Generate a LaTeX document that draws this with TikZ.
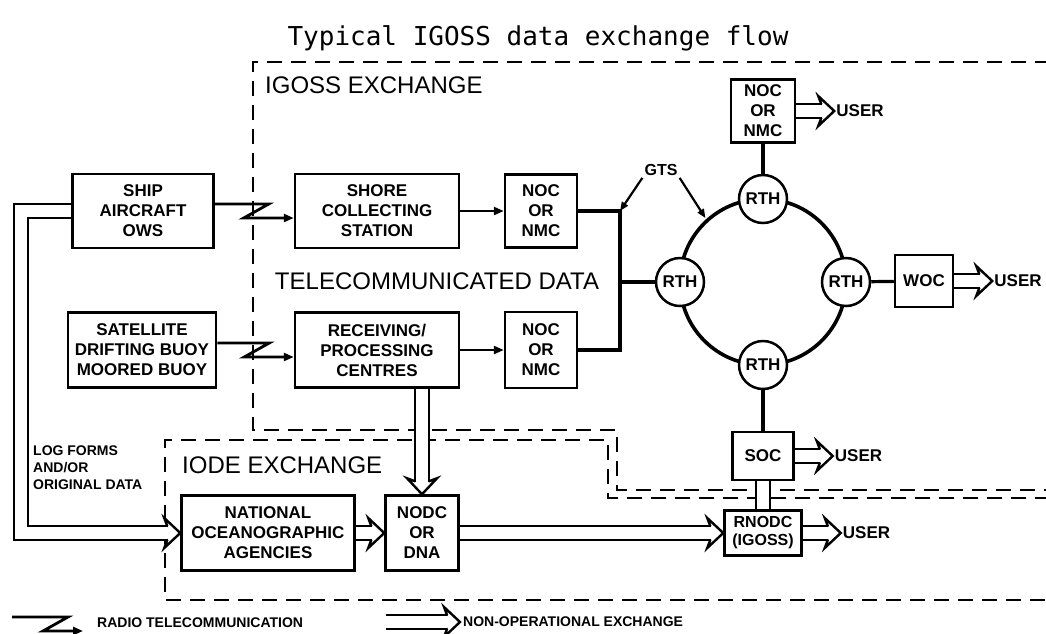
\documentclass[tikz,border=0pt]{standalone}
\usepackage{fontspec}
\setmainfont{Liberation Sans}
\newfontfamily\titlefont{DejaVu Sans Mono}
\usetikzlibrary{calc,positioning,arrows.meta,backgrounds}

\begin{document}
\begin{tikzpicture}[x=1pt,y=-1pt]
        \tikzstyle{box} = [draw, line width=2.5pt, align=center, inner sep=0pt, font=\fontsize{17}{20}\selectfont\bfseries]
        \tikzstyle{rth} = [circle, draw, line width=2.5pt, fill=white, minimum size=48pt, inner sep=0pt, font=\fontsize{17}{20}\selectfont\bfseries]
        \tikzstyle{user} = [inner sep=2pt, font=\fontsize{17}{20}\selectfont\bfseries]
        \tikzstyle{heading} = [inner sep=0pt, font=\fontsize{24}{28}\selectfont]
        \tikzstyle{small} = [inner sep=0pt, align=left, font=\fontsize{14}{17}\selectfont\bfseries]
        \tikzstyle{link} = [line width=3.2pt]
        \tikzstyle{radio} = [line width=2.8pt, -{Triangle[length=10pt,width=8pt]}]
        \tikzstyle{gtsarrow} = [line width=2.2pt, -{Triangle[length=9pt,width=7pt]}]
        \tikzstyle{hollow} = [line width=2.4pt, double=white, double distance=11.6pt]
        \tikzstyle{region} = [line width=2.2pt, dash pattern=on 15pt off 9pt]
        \tikzset{openhead/.pic={\draw[line width=2.4pt, fill=white, line cap=round] (-13,7) -- (-16,15) -- (0,0) -- (-16,-15) -- (-13,-7);}}

        \useasboundingbox (0,0) rectangle (1046,633);

        \node[font=\titlefont\fontsize{26}{30}\selectfont] (title) at (538,38) {Typical IGOSS data exchange flow};
        \node[heading, anchor=west] (igoss) at (265,85) {IGOSS EXCHANGE};
        \node[heading, anchor=west] (iode) at (182,465) {IODE EXCHANGE};
        \node[heading] (telecom) at (437,281) {TELECOMMUNICATED DATA};
        \node[small, anchor=north west] (logforms) at (33,446) {LOG FORMS\\AND/OR\\ORIGINAL DATA};

        \node[box, minimum width=141pt, minimum height=74pt] (ship) at (143,211) {SHIP\\AIRCRAFT\\OWS};
        \node[box, minimum width=148pt, minimum height=75pt] (sat) at (142,350) {SATELLITE\\DRIFTING BUOY\\MOORED BUOY};
        \node[box, minimum width=164pt, minimum height=74pt] (shore) at (377,211) {SHORE\\COLLECTING\\STATION};
        \node[box, minimum width=164pt, minimum height=75pt] (recv) at (377,350) {RECEIVING/\\PROCESSING\\CENTRES};
        \node[box, minimum width=72pt, minimum height=73pt] (noc1) at (541,211) {NOC\\OR\\NMC};
        \node[box, minimum width=72pt, minimum height=76pt] (noc2) at (541,350) {NOC\\OR\\NMC};
        \node[box, minimum width=64pt, minimum height=63pt] (noct) at (763,111) {NOC\\OR\\NMC};
        \node[box, minimum width=58pt, minimum height=52pt] (woc) at (924,281) {WOC};
        \node[box, minimum width=61pt, minimum height=48pt] (soc) at (763,456) {SOC};
        \node[box, minimum width=77pt, minimum height=45pt, font=\fontsize{16}{18}\selectfont\bfseries] (rnodc) at (763,533) {RNODC\\(IGOSS)};
        \node[box, minimum width=173pt, minimum height=75pt] (natl) at (268,533) {NATIONAL\\OCEANOGRAPHIC\\AGENCIES};
        \node[box, minimum width=73pt, minimum height=75pt] (nodc) at (422,533) {NODC\\OR\\DNA};

        \coordinate (ring) at (763,282);
        \coordinate (bus) at (620,282);
        \foreach \a/\n in {270/t,180/l,90/b,0/r}
        {
                \node[rth] (rth\n) at ($(ring)+(\a:83)$) {RTH};
        }
        \node[user, font=\fontsize{16}{18}\selectfont\bfseries] (gts) at (661,170) {GTS};

        \node[small, anchor=west] (radiotext) at (97,623) {RADIO TELECOMMUNICATION};
        \node[small, anchor=west, inner sep=3pt] (nonoptext) at (460,622) {NON-OPERATIONAL EXCHANGE};
        \coordinate (radio0) at (12,617);
        \coordinate (nonop0) at (386,622);

        \begin{scope}[on background layer]
                \draw[region] (1050,62) -- (253,62) -- (253,430) -- (617,430) -- (617,490) -- (1050,490);
                \draw[region] (1050,498) -- (608,498) -- (608,440) -- (165,440) -- (165,600) -- (1050,600);

                \draw[line width=3.6pt] (ring) circle (83);
                \draw[link] (noct) -- (rtht);
                \draw[link] (rthr) -- (woc);
                \draw[link] (rthb) -- (soc);
                \draw[link] (noc1) -| (bus) |- (noc2);
                \draw[link] (bus) -- (rthl);
                \draw[gtsarrow] (gts.south west) -- (noc1.east -| bus);
                \draw[gtsarrow] (gts.south east) -- ($(ring)+(228:86)$);

                \draw[radio] ($(ship.east)+(0,-7)$) -- ++(54,0) -- ++(-25,14) -- ($(shore.west)+(0,7)$);
                \draw[radio] ($(sat.east)+(0,-7)$) -- ++(52,0) -- ++(-25,14) -- ($(recv.west)+(0,7)$);
                \draw[radio] (shore) -- (noc1);
                \draw[radio] (recv) -- (noc2);
                \draw[radio] (radio0) -- ++(56,0) -- ++(-25,14) -- ($(radiotext.west)+(-14,8)$);

                \draw[hollow, shorten >=13pt] (ship.west) -- ++(-50,0) |- (natl.west);
                \pic at (natl.west) {openhead};
                \draw[hollow, shorten >=13pt] (nodc.north |- recv.south) -- (nodc.north);
                \pic[rotate=-90] at (nodc.north) {openhead};
                \draw[hollow, shorten >=13pt] (natl) -- (nodc);
                \pic at (nodc.west) {openhead};
                \draw[hollow, shorten >=13pt] (nodc) -- (rnodc);
                \pic at (rnodc.west) {openhead};
                \draw[hollow] (soc) -- (rnodc);
                \draw[hollow, shorten >=13pt] (nonop0) -- (nonoptext.west);
                \pic at (nonoptext.west) {openhead};

                \foreach \b in {noct,woc,soc,rnodc}
                {
                        \node[user, right=38pt of \b] (user\b) {USER};
                        \draw[hollow, shorten >=13pt] (\b) -- (user\b);
                        \pic at (user\b.west) {openhead};
                }
        \end{scope}
\end{tikzpicture}
\end{document}
